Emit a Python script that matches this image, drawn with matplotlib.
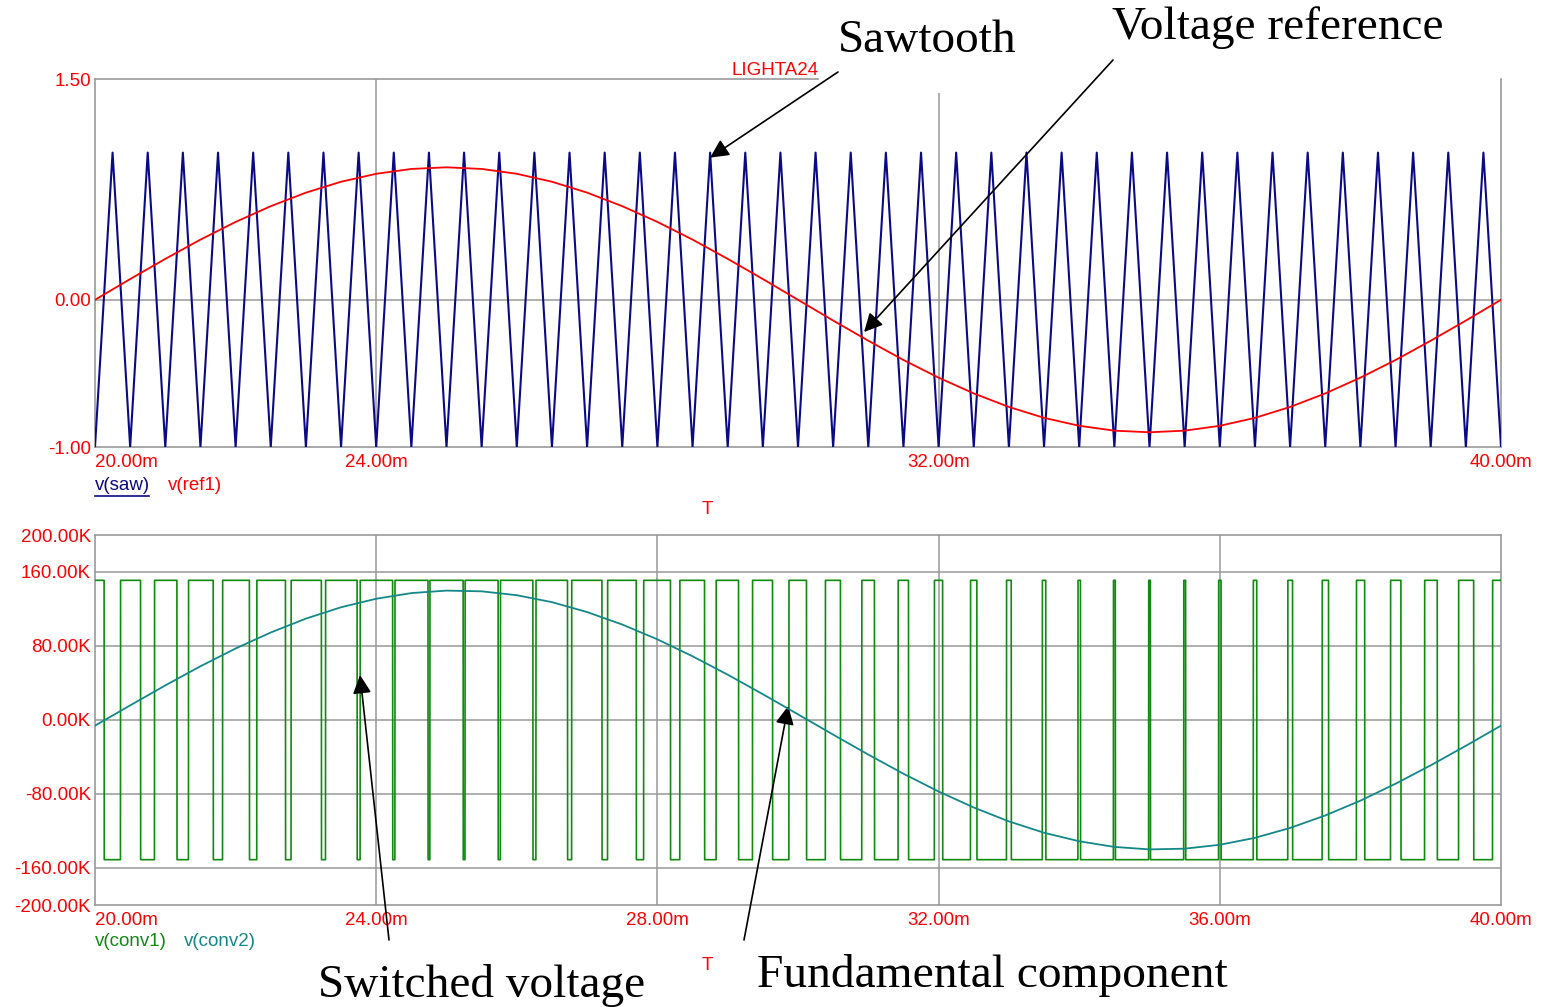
import numpy as np
import matplotlib
matplotlib.use('Agg')
import matplotlib.pyplot as plt

# ---- data (time in ms) ----
# triangle carrier: troughs (-1) and peaks (+1)
saw_trough_ms = [20.0, 20.5, 21.0, 21.5, 22.0, 22.5, 23.0, 23.5, 24.0, 24.5, 25.0, 25.5, 26.0, 26.5,
                 27.0, 27.5, 28.0, 28.5, 29.0, 29.5, 30.0, 30.5, 31.0, 31.5, 32.0, 32.5, 33.0, 33.5,
                 34.0, 34.5, 35.0, 35.5, 36.0, 36.5, 37.0, 37.5, 38.0, 38.5, 39.0, 39.5, 40.0]
saw_peak_ms = [20.25, 20.75, 21.25, 21.75, 22.25, 22.75, 23.25, 23.75, 24.25, 24.75, 25.25, 25.75,
               26.25, 26.75, 27.25, 27.75, 28.25, 28.75, 29.25, 29.75, 30.25, 30.75, 31.25, 31.75,
               32.25, 32.75, 33.25, 33.75, 34.25, 34.75, 35.25, 35.75, 36.25, 36.75, 37.25, 37.75,
               38.25, 38.75, 39.25, 39.75]
saw_lo, saw_hi = -1.0, 1.0

# reference / fundamental sampled every 0.5 ms from 20 to 40 ms
ref_t = np.linspace(20, 40, 41)
ref1 = [0.000, 0.141, 0.278, 0.409, 0.529, 0.636, 0.728, 0.802, 0.856, 0.889, 0.900,
        0.889, 0.856, 0.802, 0.728, 0.636, 0.529, 0.409, 0.278, 0.141, 0.000,
        -0.141, -0.278, -0.409, -0.529, -0.636, -0.728, -0.802, -0.856, -0.889, -0.900,
        -0.889, -0.856, -0.802, -0.728, -0.636, -0.529, -0.409, -0.278, -0.141, 0.000]
conv2 = [-6.1, 15.8, 37.4, 58.1, 77.3, 94.6, 109.6, 121.9, 131.1, 137.2, 139.9,
         139.1, 134.9, 127.4, 116.7, 103.2, 87.2, 68.9, 49.0, 27.9, 6.1,
         -15.8, -37.4, -58.1, -77.3, -94.6, -109.6, -121.9, -131.1, -137.2, -139.9,
         -139.1, -134.9, -127.4, -116.7, -103.2, -87.2, -68.9, -49.0, -27.9, -6.1]
conv1_hi, conv1_lo = 151.0, -151.0   # kV levels of switched voltage

top_yticks = [-1.0, 0.0, 1.5]
top_ylabels = ['-1.00', '0.00', '1.50']
top_xticks = [20, 24, 32, 40]
bot_yticks = [-200, -160, -80, 0, 80, 160, 200]
bot_ylabels = ['-200.00K', '-160.00K', '-80.00K', '0.00K', '80.00K', '160.00K', '200.00K']
bot_xticks = [20, 24, 28, 32, 36, 40]

NAVY = '#0a0a86'
RED = '#ff0000'
GREEN = '#108a10'
TEAL = '#148888'
GRID = '#999999'
SANS = 'Liberation Sans'
SERIF = 'Liberation Serif'
FS = 13.5

W, H = 1541, 1007

# carrier vertices
tri_t = np.sort(np.array(saw_trough_ms + saw_peak_ms))
tri_v = np.where(np.isin(tri_t, saw_peak_ms), saw_hi, saw_lo)

# switched voltage: comparator of reference vs carrier
t_fine = np.linspace(20, 40, 40001)
conv1 = np.where(np.interp(t_fine, ref_t, ref1) > np.interp(t_fine, tri_t, tri_v), conv1_hi, conv1_lo)

fig = plt.figure(figsize=(W / 100, H / 100), dpi=100)
ax1 = fig.add_axes([95 / W, 1 - 447 / H, 1406 / W, 368 / H])
ax2 = fig.add_axes([95 / W, 1 - 905 / H, 1406 / W, 370 / H])


def style(ax, xticks, yticks, ylabels):
    ax.set_xlim(20, 40)
    ax.set_xticks(xticks)
    ax.set_xticklabels(['%.2fm' % x for x in xticks])
    ax.set_yticks(yticks)
    ax.set_yticklabels(ylabels)
    ax.tick_params(length=0, labelcolor=RED, labelsize=FS, pad=3)
    ax.tick_params(axis='x', pad=5)
    for lab in ax.get_xticklabels() + ax.get_yticklabels():
        lab.set_family(SANS)
    ax.get_xticklabels()[0].set_ha('left')
    for s in ax.spines.values():
        s.set_color(GRID)
        s.set_linewidth(1.2)


# top panel
ax1.plot(tri_t, tri_v, color=NAVY, lw=1.5, zorder=3)
ax1.plot(ref_t, ref1, color=RED, lw=1.3, zorder=4)
ax1.set_ylim(-1, 1.5)
style(ax1, top_xticks, top_yticks, top_ylabels)
ax1.axhline(0, color=GRID, lw=1.1, zorder=1)
ax1.vlines(24, -1, 1.5, color=GRID, lw=1.1, zorder=1)
ax1.vlines(32, -1, 1.405, color=GRID, lw=1.1, zorder=1)
ax1.spines['top'].set_visible(False)
ax1.plot([20, 30.29], [1.5, 1.5], color=GRID, lw=1.2, clip_on=False)
ax1.text(30.29, 1.5, 'LIGHTA24', color=RED, fontsize=FS, family=SANS,
         ha='right', va='bottom')

# bottom panel
ax2.plot(t_fine, conv1, color=GREEN, lw=1.2, zorder=3)
ax2.plot(ref_t, conv2, color=TEAL, lw=1.3, zorder=4)
ax2.set_ylim(-200, 200)
style(ax2, bot_xticks, bot_yticks, bot_ylabels)
for y in [-160, -80, 0, 80, 160]:
    ax2.axhline(y, color=GRID, lw=1.1, zorder=1)
for x in [24, 28, 32, 36]:
    ax2.axvline(x, color=GRID, lw=1.1, zorder=1)

# legends and axis names
fig.text(95 / W, 1 - 486 / H, 'v(saw)', color=NAVY, fontsize=FS, family=SANS, va='center')
fig.add_artist(plt.Line2D([95 / W, 149 / W], [1 - 496 / H, 1 - 496 / H], color=NAVY, lw=1.2))
fig.text(168 / W, 1 - 486 / H, 'v(ref1)', color=RED, fontsize=FS, family=SANS, va='center')
fig.text(95 / W, 1 - 941 / H, 'v(conv1)', color=GREEN, fontsize=FS, family=SANS, va='center')
fig.text(184 / W, 1 - 941 / H, 'v(conv2)', color=TEAL, fontsize=FS, family=SANS, va='center')
fig.text(707 / W, 1 - 509 / H, 'T', color=RED, fontsize=FS, family=SANS, ha='center', va='center')
fig.text(707 / W, 1 - 965 / H, 'T', color=RED, fontsize=FS, family=SANS, ha='center', va='center')

# annotations
fig.text(838 / W, 1 - 52 / H, 'Sawtooth', fontsize=34, family=SERIF, va='baseline')
fig.text(1112 / W, 1 - 39 / H, 'Voltage reference', fontsize=34, family=SERIF, va='baseline')
fig.text(318 / W, 1 - 997 / H, 'Switched voltage', fontsize=34, family=SERIF, va='baseline')
fig.text(757 / W, 1 - 987 / H, 'Fundamental component', fontsize=34.2, family=SERIF, va='baseline')

arrow = dict(arrowstyle='-|>,head_length=0.4,head_width=0.2', mutation_scale=28,
             color='black', lw=1.2, shrinkA=0, shrinkB=0)
ax1.annotate('', xy=(28.75, 0.966), xytext=(838, H - 72), textcoords='figure pixels',
             arrowprops=arrow, annotation_clip=False)
ax1.annotate('', xy=(30.94, -0.219), xytext=(1113, H - 60), textcoords='figure pixels',
             arrowprops=arrow, annotation_clip=False)
ax2.annotate('', xy=(23.77, 48.6), xytext=(389, H - 940), textcoords='figure pixels',
             arrowprops=arrow, annotation_clip=False)
ax2.annotate('', xy=(29.86, 15.1), xytext=(744, H - 940), textcoords='figure pixels',
             arrowprops=arrow, annotation_clip=False)

fig.savefig('out.png', dpi=100)
